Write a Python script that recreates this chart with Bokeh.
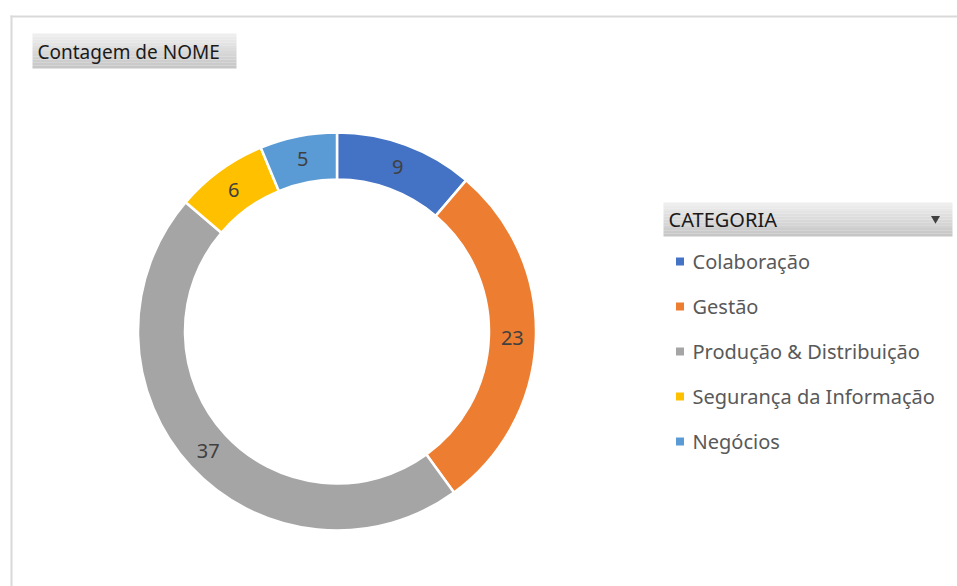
import math
from bokeh.plotting import figure
from bokeh.models import Range1d, ColumnDataSource
from bokeh.core.properties import value
from bokeh.embed import file_html
from bokeh.resources import INLINE

# ---- data ----
categories = ["Colaboração", "Gestão", "Produção & Distribuição", "Segurança da Informação", "Negócios"]
counts = [9, 23, 37, 6, 5]
colors = ["#4472C4", "#ED7D31", "#A5A5A5", "#FFC000", "#5B9BD5"]
title_text = "Contagem de NOME"
legend_title = "CATEGORIA"

W, H = 957, 586
FONT = "Noto Sans"

def X(px):
    return px

def Y(py):
    return H - py

p = figure(width=W, height=H, output_backend="svg", toolbar_location=None,
           x_range=Range1d(0, W), y_range=Range1d(0, H), min_border=0)
p.axis.visible = False
p.grid.visible = False
p.outline_line_color = None
p.background_fill_color = "white"
p.border_fill_color = "white"

# chart area border (top + left)
p.quad(left=[X(10)], right=[X(957)], bottom=[Y(17)], top=[Y(15)], fill_color="#d9d9d9", line_color=None)
p.quad(left=[X(10)], right=[X(12)], bottom=[Y(586)], top=[Y(15)], fill_color="#d9d9d9", line_color=None)

# gradient boxes
def grad_box(x0, x1, y0, y1, n=12):
    lefts, rights, tops, bottoms, cols = [], [], [], [], []
    for i in range(n):
        t = i / (n - 1)
        c = int(round(0xEE - t * (0xEE - 0xC6)))
        ya = y0 + (y1 - y0) * i / n
        yb = y0 + (y1 - y0) * (i + 1) / n
        lefts.append(X(x0)); rights.append(X(x1))
        tops.append(Y(ya)); bottoms.append(Y(yb))
        cols.append("#%02x%02x%02x" % (c, c, c))
    p.quad(left=lefts, right=rights, top=tops, bottom=bottoms, fill_color=cols, line_color=None)

grad_box(32, 236, 33, 68)
p.text(x=[X(37)], y=[Y(51)], text=[title_text], text_font=value(FONT), text_font_size="19px",
       text_color="#1a1a1a", text_align="left", text_baseline="middle")

# donut
cx, cy = X(336.5), Y(331)
r_in, r_out = 152, 199
total = sum(counts)
starts, ends, mids = [], [], []
cum = 0
for v in counts:
    a0 = math.pi / 2 - 2 * math.pi * cum / total
    cum += v
    a1 = math.pi / 2 - 2 * math.pi * cum / total
    starts.append(a0); ends.append(a1); mids.append((a0 + a1) / 2)

src = ColumnDataSource(dict(start=starts, end=ends, color=colors, cat=categories, val=counts))
p.annular_wedge(x=cx, y=cy, inner_radius=r_in, outer_radius=r_out, start_angle="start", end_angle="end",
                direction="clock", fill_color="color", line_color="white", line_width=2.5, source=src)

r_lab = (r_in + r_out) / 2
p.text(x=[cx + r_lab * math.cos(a) for a in mids], y=[cy + r_lab * math.sin(a) for a in mids],
       text=[str(v) for v in counts], text_font=value(FONT), text_font_size="20px",
       text_color="#404040", text_align="center", text_baseline="middle")

# legend
grad_box(663, 952, 202, 236)
p.text(x=[X(668)], y=[Y(219)], text=[legend_title], text_font=value(FONT), text_font_size="20px",
       text_color="#1a1a1a", text_align="left", text_baseline="middle")
p.scatter(x=[X(935)], y=[Y(218)], marker="triangle", size=9, angle=math.pi,
          fill_color="#404040", line_color=None)

ly = [Y(261 + 45 * i) for i in range(len(categories))]
p.scatter(x=[X(679.5)] * len(categories), y=ly, marker="square", size=8, fill_color=colors, line_color=None)
p.text(x=[X(692)] * len(categories), y=ly, text=categories, text_font=value(FONT), text_font_size="20px",
       text_color="#595959", text_align="left", text_baseline="middle")

open("out.html", "w").write(file_html(p, INLINE))
